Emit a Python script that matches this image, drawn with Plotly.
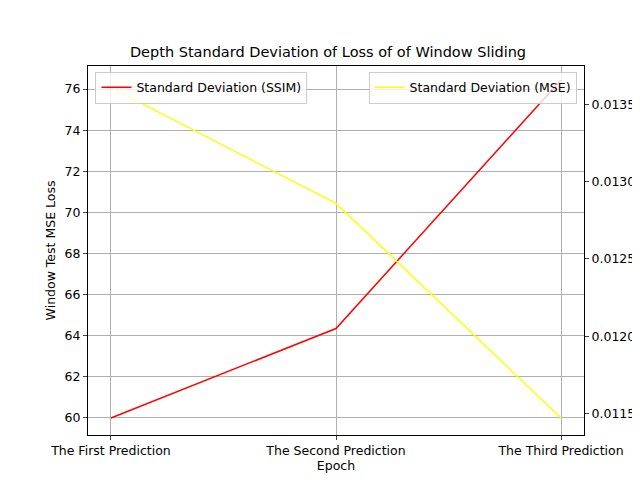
import plotly.graph_objects as go

categories = ["The First Prediction", "The Second Prediction", "The Third Prediction"]
ssim_std = [60.0, 64.35, 76.44]
mse_std = [0.01361, 0.01286, 0.01147]

fig = go.Figure()
fig.add_trace(go.Scatter(x=[0, 1, 2], y=ssim_std, mode="lines", line=dict(color="red", width=1.5),
                         name="Standard Deviation (SSIM)", legend="legend", showlegend=True))
fig.add_trace(go.Scatter(x=[0, 1, 2], y=mse_std, mode="lines", line=dict(color="yellow", width=1.5),
                         name="Standard Deviation (MSE)", yaxis="y2", legend="legend2", showlegend=True))

ax = dict(showline=True, linecolor="black", mirror=True, ticks="outside", ticklen=4,
          tickfont=dict(size=12.5, color="black"), zeroline=False, automargin=False)
fig.update_layout(
    width=640, height=480, plot_bgcolor="white", paper_bgcolor="white", showlegend=True,
    font=dict(family="DejaVu Sans", size=12, color="black"),
    margin=dict(l=80, r=64, t=58, b=53, autoexpand=False),
    title=dict(text="Depth Standard Deviation of Loss of of Window Sliding", x=0.5, y=0.908,
               xanchor="center", yanchor="middle", font=dict(size=14.5)),
    xaxis=dict(**ax, tickvals=[0, 1, 2], ticktext=categories, range=[-0.102, 2.102],
               showgrid=True, gridcolor="#b0b0b0", title=dict(text="Epoch", standoff=4, font=dict(size=12.5))),
    yaxis=dict(**ax, range=[59.17, 77.12], dtick=2, showgrid=True, gridcolor="#b0b0b0",
               title=dict(text="Window Test MSE Loss", standoff=6, font=dict(size=12.5))),
    yaxis2=dict(showline=False, ticks="outside", ticklen=4, tickfont=dict(size=12.5, color="black"),
                overlaying="y", side="right", range=[0.01136, 0.01375], dtick=0.0005,
                tickformat=".4f", showgrid=False, zeroline=False, automargin=False),
    legend=dict(x=0.015, y=0.985, xanchor="left", yanchor="top", bgcolor="rgba(255,255,255,0.8)",
                bordercolor="#cccccc", borderwidth=1, font=dict(size=12.5)),
    legend2=dict(x=0.985, y=0.985, xanchor="right", yanchor="top", bgcolor="rgba(255,255,255,0.8)",
                 bordercolor="#cccccc", borderwidth=1, font=dict(size=12.5)),
)
fig.write_html("out.html")
